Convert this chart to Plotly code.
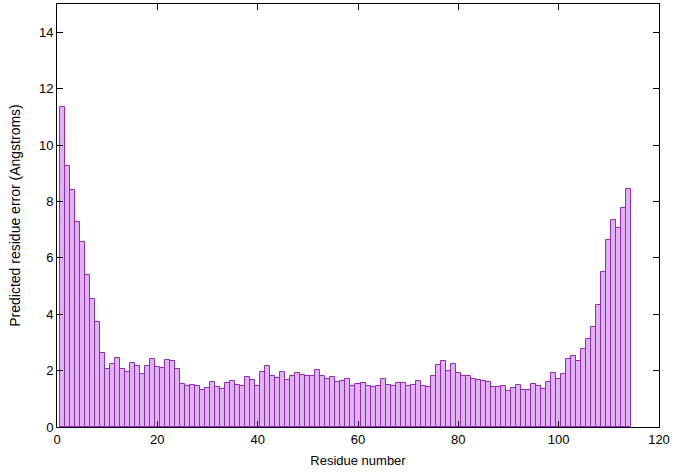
import plotly.graph_objects as go

residues = list(range(1, 115))
errors = [
    11.35, 9.26, 8.40, 7.28, 6.55, 5.40, 4.55, 3.74, 2.62, 2.07,
    2.25, 2.46, 2.07, 1.95, 2.28, 2.16, 1.88, 2.15, 2.42, 2.14,
    2.09, 2.37, 2.35, 2.05, 1.51, 1.45, 1.49, 1.47, 1.31, 1.37,
    1.58, 1.42, 1.36, 1.55, 1.62, 1.50, 1.47, 1.76, 1.65, 1.47,
    1.94, 2.16, 1.80, 1.73, 1.94, 1.65, 1.81, 1.90, 1.83, 1.81,
    1.81, 2.03, 1.81, 1.70, 1.77, 1.58, 1.62, 1.69, 1.47, 1.52,
    1.57, 1.47, 1.41, 1.46, 1.69, 1.49, 1.47, 1.55, 1.57, 1.44,
    1.49, 1.63, 1.47, 1.41, 1.80, 2.20, 2.33, 2.00, 2.22, 1.90,
    1.80, 1.80, 1.69, 1.65, 1.64, 1.60, 1.42, 1.42, 1.47, 1.27,
    1.37, 1.50, 1.30, 1.30, 1.51, 1.45, 1.34, 1.60, 1.91, 1.70,
    1.88, 2.40, 2.53, 2.35, 2.75, 3.12, 3.53, 4.31, 5.51, 6.63,
    7.35, 7.06, 7.78, 8.45,
]

x_title = "Residue number"
y_title = "Predicted residue error (Angstroms)"

fig = go.Figure(
    go.Bar(
        x=residues,
        y=errors,
        width=1,
        marker=dict(
            color="rgba(148,0,211,0.3)",
            line=dict(color="rgb(150,40,190)", width=1),
        ),
    )
)

family = "Liberation Sans, Arial, sans-serif"
tick_font = dict(family=family, size=13, color="black")

axis_common = dict(
    showgrid=False,
    zeroline=False,
    showline=True,
    linecolor="black",
    linewidth=1,
    mirror="ticks",
    ticks="inside",
    ticklen=6,
    tickcolor="black",
    tickfont=tick_font,
    automargin=False,
)

fig.update_xaxes(range=[0, 120], dtick=20, tick0=0, title_text=x_title,
                 title_font=dict(family=family, size=13, color="black"),
                 title_standoff=10, **axis_common)
fig.update_yaxes(range=[0, 15], tickvals=[0, 2, 4, 6, 8, 10, 12, 14],
                 title_text=y_title,
                 title_font=dict(family=family, size=14, color="black"),
                 title_standoff=15, **axis_common)

fig.update_layout(
    width=675,
    height=472,
    margin=dict(l=57, r=16, t=4, b=45, autoexpand=False),
    paper_bgcolor="white",
    plot_bgcolor="white",
    bargap=0,
    showlegend=False,
)

fig.write_html(
    "out.html",
    config={"displayModeBar": False},
    post_script="document.body.style.margin='0';document.body.style.padding='0';",
)
